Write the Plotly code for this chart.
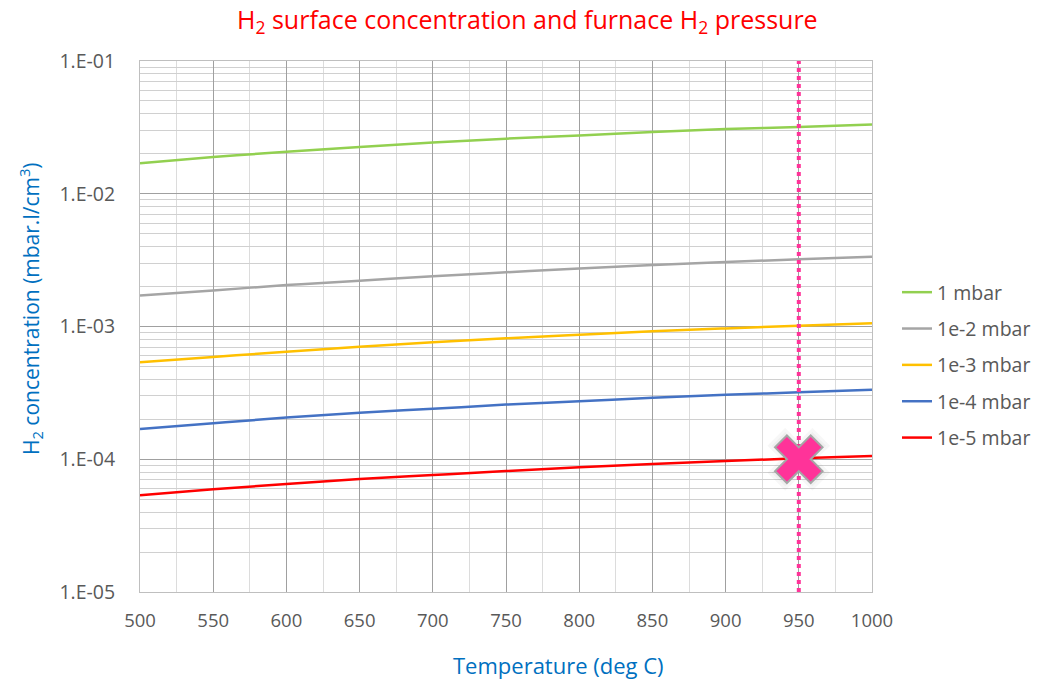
import plotly.graph_objects as go

# Temperature grid (deg C)
temperature = [500, 550, 600, 650, 700, 750, 800, 850, 900, 950, 1000]

# H2 surface concentration (mbar.l/cm3) for each furnace H2 pressure
conc_1mbar = [0.0170, 0.0189, 0.0207, 0.0225, 0.0243, 0.0260, 0.0275, 0.0292, 0.0307, 0.0318, 0.0333]
conc_1e2 = [1.71e-3, 1.87e-3, 2.05e-3, 2.21e-3, 2.39e-3, 2.56e-3, 2.74e-3, 2.90e-3, 3.06e-3, 3.21e-3, 3.36e-3]
conc_1e3 = [5.37e-4, 5.89e-4, 6.46e-4, 7.04e-4, 7.60e-4, 8.15e-4, 8.67e-4, 9.20e-4, 9.68e-4, 1.014e-3, 1.06e-3]
conc_1e4 = [1.69e-4, 1.87e-4, 2.06e-4, 2.24e-4, 2.40e-4, 2.58e-4, 2.73e-4, 2.91e-4, 3.06e-4, 3.19e-4, 3.34e-4]
conc_1e5 = [5.35e-5, 5.94e-5, 6.52e-5, 7.10e-5, 7.61e-5, 8.15e-5, 8.69e-5, 9.20e-5, 9.70e-5, 1.016e-4, 1.06e-4]

series_names = ["1 mbar", "1e-2 mbar", "1e-3 mbar", "1e-4 mbar", "1e-5 mbar"]
series_values = [conc_1mbar, conc_1e2, conc_1e3, conc_1e4, conc_1e5]
series_colors = ["#92D050", "#A5A5A5", "#FFC000", "#4472C4", "#FF0000"]

# Operating point highlighted on the chart
op_temperature = 950
op_concentration = 1e-4

y_tickvals = [1e-5, 1e-4, 1e-3, 1e-2, 1e-1]
y_ticktext = ["1.E-05", "1.E-04", "1.E-03", "1.E-02", "1.E-01"]
x_tickvals = [500, 550, 600, 650, 700, 750, 800, 850, 900, 950, 1000]

FONT = "Open Sans"
GREY_TXT = "#595959"
BLUE_TXT = "#0070C0"

W, H = 1042, 680
ML, MR, MT, MB = 140, 170, 61, 88

fig = go.Figure()

for i, (name, vals, col) in enumerate(zip(series_names, series_values, series_colors)):
    fig.add_trace(go.Scatter(
        x=temperature, y=vals, name=name, mode="lines",
        line=dict(color=col, width=2.5, shape="spline"),
        legendgroup=f"g{i}",
    ))

# vertical dotted marker line at the operating temperature
fig.add_trace(go.Scatter(
    x=[op_temperature, op_temperature], y=[y_tickvals[0], y_tickvals[-1]],
    mode="lines", showlegend=False, hoverinfo="skip",
    line=dict(color="#FF3399", width=4, dash="4px,4px"),
))

# soft halo behind the cross
fig.add_trace(go.Scatter(
    x=[op_temperature], y=[op_concentration], mode="markers",
    showlegend=False, hoverinfo="skip",
    marker=dict(symbol="x", size=48, color="rgba(0,0,0,0.03)",
                line=dict(width=6, color="rgba(0,0,0,0.03)")),
))
fig.add_trace(go.Scatter(
    x=[op_temperature], y=[op_concentration], mode="markers",
    showlegend=False, hoverinfo="skip",
    marker=dict(symbol="x", size=42, color="#FF3399",
                line=dict(width=2, color="#A6A6A6")),
))


def px_to_paper(px, py):
    return (px - ML) / (W - ML - MR), 1 - (py - MT) / (H - MT - MB)


lx, ly = px_to_paper(897, 365)

fig.update_layout(
    width=W, height=H,
    margin=dict(l=ML, r=MR, t=MT, b=MB, autoexpand=False),
    paper_bgcolor="white", plot_bgcolor="white",
    font=dict(family=FONT, color=GREY_TXT, size=18),
    showlegend=True,
    legend=dict(
        x=lx, y=ly, xanchor="left", yanchor="middle",
        font=dict(family=FONT, size=19.5, color=GREY_TXT),
        traceorder="grouped", tracegroupgap=8,
        bgcolor="rgba(0,0,0,0)",
    ),
    xaxis=dict(
        range=[500, 1000], tickvals=x_tickvals, ticks="",
        showgrid=True, gridcolor="#A0A0A0", gridwidth=1,
        minor=dict(dtick=25, showgrid=True, gridcolor="#DCDCDC", gridwidth=1),
        zeroline=False, showline=True, linecolor="#BFBFBF", mirror=True,
        ticklabelstandoff=12,
        tickfont=dict(family=FONT, size=18.5, color=GREY_TXT),
    ),
    yaxis=dict(
        type="log", range=[-5, -1],
        tickvals=y_tickvals, ticktext=y_ticktext, ticks="",
        showgrid=True, gridcolor="#A0A0A0", gridwidth=1,
        minor=dict(dtick="D1", showgrid=True, gridcolor="#D0D0D0", gridwidth=1),
        zeroline=False, showline=True, linecolor="#BFBFBF", mirror=True,
        ticklabelstandoff=20,
        tickfont=dict(family=FONT, size=19.5, color=GREY_TXT),
    ),
)

# text annotations placed in figure pixel terms
labels = [
    ("H<sub>2</sub> surface concentration and furnace H<sub>2</sub> pressure",
     527, 20, 0, 25, "#FF0000"),
    ("Temperature (deg C)", 558, 665, 0, 22, BLUE_TXT),
    ("H<sub>2</sub> concentration (mbar.l/cm<sup>3</sup>)", 30, 309, -90, 21, BLUE_TXT),
]
for text, px, py, ang, size, col in labels:
    ax, ay = px_to_paper(px, py)
    fig.add_annotation(
        text=text, x=ax, y=ay, xref="paper", yref="paper",
        xanchor="center", yanchor="middle", showarrow=False, textangle=ang,
        font=dict(family=FONT, size=size, color=col),
    )

fig.write_html("out.html")
